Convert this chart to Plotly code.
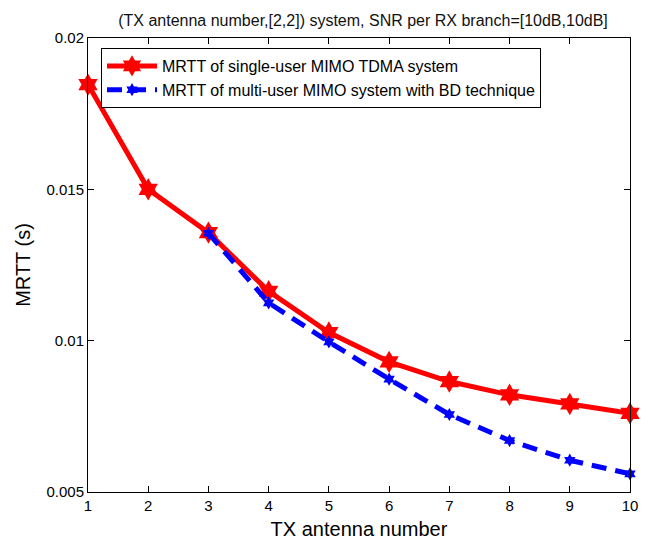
import plotly.graph_objects as go

tx_antennas = [1, 2, 3, 4, 5, 6, 7, 8, 9, 10]
mrtt_tdma = [0.01846, 0.01500, 0.01357, 0.01163, 0.01027, 0.00930, 0.00865, 0.00821, 0.00791, 0.00760]
bd_antennas = [3, 4, 5, 6, 7, 8, 9, 10]
mrtt_bd = [0.01355, 0.01125, 0.00996, 0.00873, 0.00756, 0.00670, 0.00605, 0.00560]

y_ticks = [0.005, 0.01, 0.015, 0.02]
y_ticktext = ["0.005", "0.01", "0.015", "0.02"]
x_ticks = list(range(1, 11))

FONT = "Arial, 'Liberation Sans', Helvetica, sans-serif"

fig = go.Figure()
fig.add_trace(go.Scatter(
    x=tx_antennas, y=mrtt_tdma, mode="lines+markers",
    name="MRTT of single-user MIMO TDMA system",
    line=dict(color="#FF0000", width=5),
    marker=dict(symbol="hexagram", size=17, color="#FF0000", line=dict(width=0)),
    cliponaxis=False,
))
fig.add_trace(go.Scatter(
    x=bd_antennas, y=mrtt_bd, mode="lines+markers",
    name="MRTT of multi-user MIMO system with BD technique",
    line=dict(color="#0000FF", width=5, dash="15px,9px"),
    marker=dict(symbol="hexagram", size=10, color="#0000FF", line=dict(width=0)),
    cliponaxis=False,
))

fig.update_layout(
    width=648, height=546,
    margin=dict(l=88, r=10, t=38, b=53),
    paper_bgcolor="white", plot_bgcolor="white",
    font=dict(family=FONT, color="black", size=15),
    title=dict(
        text="(TX antenna number,[2,2]) system, SNR per RX branch=[10dB,10dB]",
        x=(88 + 638) / 2 / 648, xanchor="center",
        y=1 - 20 / 546, yanchor="middle",
        font=dict(size=16, family=FONT, color="#111111"),
    ),
    showlegend=True,
    legend=dict(
        x=0.024, y=0.978, xanchor="left", yanchor="top",
        bgcolor="white", bordercolor="black", borderwidth=1,
        font=dict(size=16, family=FONT, color="black"),
        tracegroupgap=0, itemwidth=50,
    ),
)
fig.update_xaxes(
    range=[1, 10], tickvals=x_ticks,
    showline=True, linecolor="black", linewidth=1, mirror="ticks",
    ticks="inside", ticklen=6, tickcolor="black", tickwidth=1,
    showgrid=False, zeroline=False,
    tickfont=dict(size=15, family=FONT, color="black"),
    title=dict(text="TX antenna number", font=dict(size=20, family=FONT, color="black"), standoff=8),
)
fig.update_yaxes(
    range=[0.005, 0.02], tickvals=y_ticks, ticktext=y_ticktext,
    showline=True, linecolor="black", linewidth=1, mirror="ticks",
    ticks="inside", ticklen=6, tickcolor="black", tickwidth=1,
    showgrid=False, zeroline=False,
    tickfont=dict(size=15, family=FONT, color="black"),
    title=dict(text="MRTT (s)", font=dict(size=20, family=FONT, color="black"), standoff=10),
)

fig.write_html("out.html")
